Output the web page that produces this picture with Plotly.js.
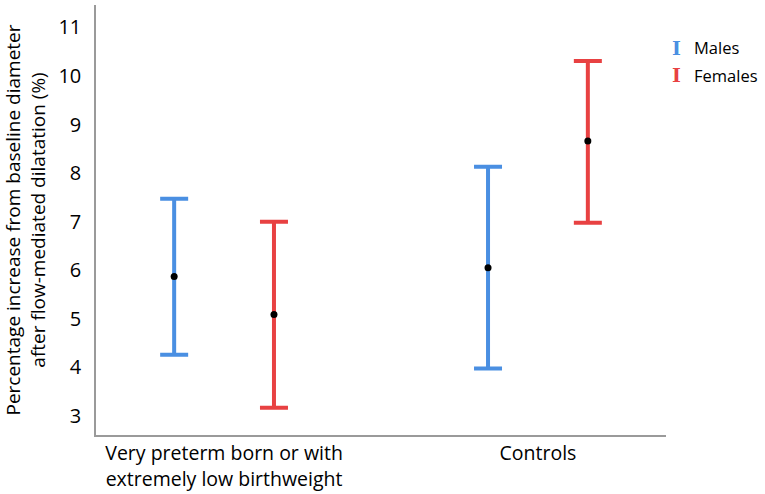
<!DOCTYPE html>
<html>
<head>
<meta charset="utf-8">
<script src="https://cdn.plot.ly/plotly-3.0.1.min.js"></script>
<style>
  html, body { margin: 0; padding: 0; background: #fff; }
  #chart { width: 765px; height: 494px; }
</style>
</head>
<body>
<div id="chart"></div>
<script>
// group labels on the x axis
const groups = ['Very preterm born or with<br>extremely low birthweight', 'Controls'];

// means and 95% CI bounds
const malesMean = [5.87, 6.05];
const malesLower = [4.26, 3.98];
const malesUpper = [7.47, 8.13];

const femalesMean = [5.09, 8.66];
const femalesLower = [3.17, 6.98];
const femalesUpper = [7.00, 10.31];

const yTicks = [3, 4, 5, 6, 7, 8, 9, 10, 11];

const seriesNames = ['Males', 'Females'];
const seriesColors = ['#4a8fe2', '#e84142'];

function makeTrace(name, color, mean, lower, upper) {
    return {
        type: 'scatter',
        mode: 'markers',
        name: name,
        x: groups,
        y: mean,
        showlegend: false,
        marker: {color: 'black', size: 7},
        error_y: {
            type: 'data',
            symmetric: false,
            array: upper.map((u, i) => u - mean[i]),
            arrayminus: mean.map((m, i) => m - lower[i]),
            color: color,
            thickness: 4,
            width: 14
        },
        hoverinfo: 'x+y'
    };
}

const data = [
    makeTrace(seriesNames[0], seriesColors[0], malesMean, malesLower, malesUpper),
    makeTrace(seriesNames[1], seriesColors[1], femalesMean, femalesLower, femalesUpper)
];

// legend drawn as annotations so the key can show an error-bar glyph
const annotations = [];
seriesNames.forEach(function(name, i) {
    const y = 0.9 - i * 0.063;
    annotations.push({
        xref: 'paper', yref: 'paper', x: 1.019, y: y,
        xanchor: 'center', yanchor: 'middle', showarrow: false,
        text: '<b>I</b>',
        font: {family: 'DejaVu Serif, serif', size: 19, color: seriesColors[i]}
    });
    annotations.push({
        xref: 'paper', yref: 'paper', x: 1.045, y: y,
        xanchor: 'left', yanchor: 'middle', showarrow: false,
        text: name,
        font: {size: 16.5, color: 'black'}
    });
});

const layout = {
    width: 765,
    height: 494,
    margin: {l: 96, r: 99, t: 5, b: 59},
    paper_bgcolor: 'white',
    plot_bgcolor: 'white',
    font: {family: 'Open Sans, sans-serif', size: 17, color: 'black'},
    scattermode: 'group',
    scattergap: 0.364,
    showlegend: false,
    annotations: annotations,
    xaxis: {
        type: 'category',
        range: [-0.408, 1.408],
        showline: true,
        linecolor: '#9a9a9a',
        linewidth: 1.5,
        showgrid: false,
        zeroline: false,
        ticks: '',
        tickfont: {size: 19.5}
    },
    yaxis: {
        range: [2.61, 11.46],
        tickvals: yTicks,
        showline: true,
        linecolor: '#9a9a9a',
        linewidth: 1.5,
        showgrid: false,
        zeroline: false,
        ticks: 'outside',
        ticklen: 9,
        tickcolor: 'rgba(0,0,0,0)',
        tickfont: {size: 20},
        title: {
            text: 'Percentage increase from baseline diameter<br>after flow-mediated dilatation (%)',
            font: {size: 19},
            standoff: 10
        }
    }
};

Plotly.newPlot('chart', data, layout, {displayModeBar: false, responsive: false});
</script>
</body>
</html>
